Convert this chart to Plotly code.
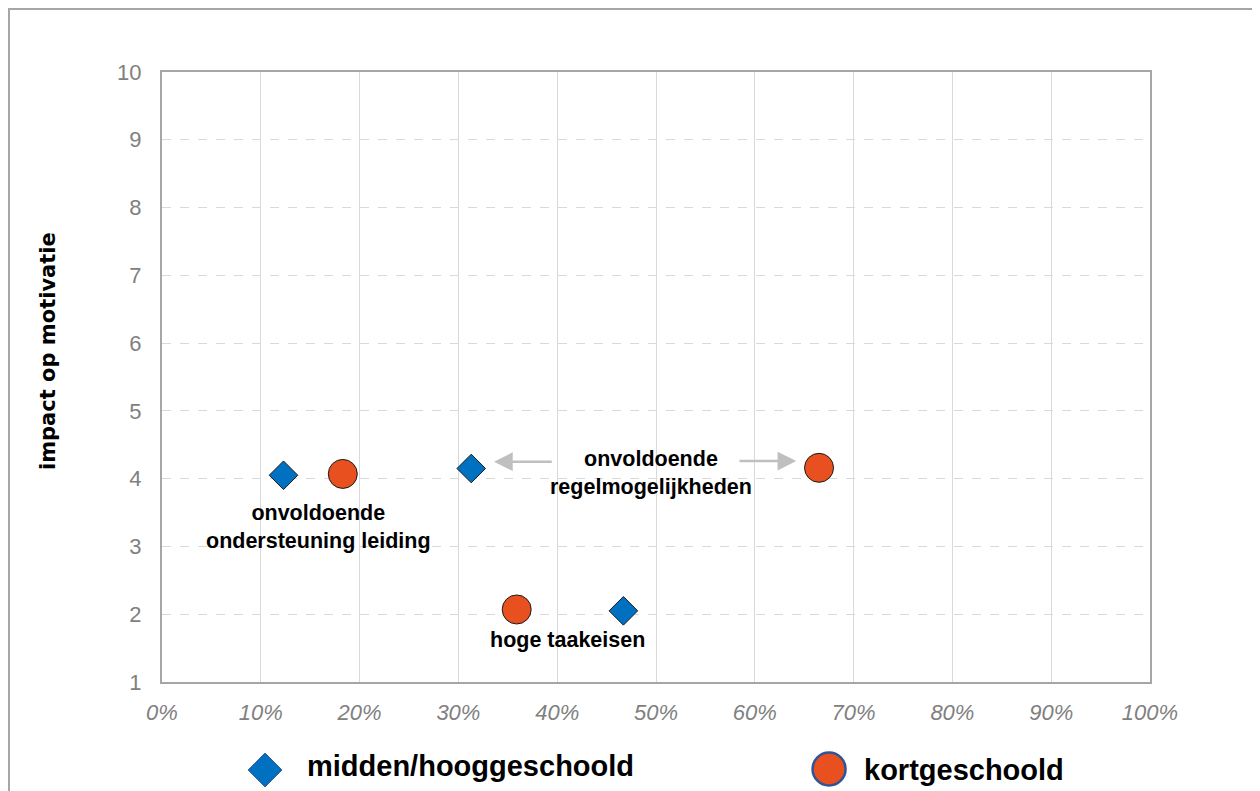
import plotly.graph_objects as go

# ---------------- data ----------------
series_names = ["midden/hooggeschoold", "kortgeschoold"]
mh_x = [12.3, 31.3, 46.7]          # % (midden/hooggeschoold)
mh_y = [4.05, 4.15, 2.05]
kg_x = [18.3, 66.5, 35.9]          # % (kortgeschoold)
kg_y = [4.07, 4.16, 2.07]
label_texts = ["onvoldoende<br>ondersteuning leiding",
               "onvoldoende<br>regelmogelijkheden",
               "hoge taakeisen"]
x_tick_vals = [0, 10, 20, 30, 40, 50, 60, 70, 80, 90, 100]
x_tick_labels = ["0%", "10%", "20%", "30%", "40%", "50%", "60%", "70%", "80%", "90%", "100%"]
y_tick_vals = [1, 2, 3, 4, 5, 6, 7, 8, 9, 10]
y_title = "impact op motivatie"

BLUE = "#0070C0"
ORANGE = "#E8501F"
GRAY_TXT = "#808080"

W, H = 1252, 783

fig = go.Figure()

fig.add_trace(go.Scatter(
    x=mh_x, y=mh_y, mode="markers", name=series_names[0], showlegend=False,
    marker=dict(symbol="diamond", size=22, color=BLUE, line=dict(color="#1a1a1a", width=1)),
))
fig.add_trace(go.Scatter(
    x=kg_x, y=kg_y, mode="markers", name=series_names[1], showlegend=False,
    marker=dict(symbol="circle", size=29, color=ORANGE, line=dict(color="#1a1a1a", width=1)),
))

# custom legend symbols on a hidden helper axis pair below the plot area
fig.add_trace(go.Scatter(
    x=[0.2053], y=[0.268], xaxis="x2", yaxis="y2", mode="markers", showlegend=False,
    cliponaxis=False, hoverinfo="skip",
    marker=dict(symbol="diamond", size=26, color=BLUE, line=dict(color="#2F5597", width=1)),
))
fig.add_trace(go.Scatter(
    x=[0.6558], y=[0.281], xaxis="x2", yaxis="y2", mode="markers", showlegend=False,
    cliponaxis=False, hoverinfo="skip",
    marker=dict(symbol="circle", size=33, color=ORANGE, line=dict(color="#2F5597", width=2.5)),
))

label_font = dict(family="Liberation Sans, Arial", size=21.5, color="black")
annotations = [
    dict(x=15.8, y=3.29, text="<b>" + label_texts[0] + "</b>", showarrow=False,
         font=label_font, xanchor="center", yanchor="middle"),
    dict(x=49.5, y=4.09, text="<b>" + label_texts[1] + "</b>", showarrow=False,
         font=label_font, xanchor="center", yanchor="middle"),
    dict(x=41.0, y=1.62, text="<b>" + label_texts[2] + "</b>", showarrow=False,
         font=label_font, xanchor="center", yanchor="middle"),
    # arrows
    dict(x=33.6, y=4.25, ax=39.6, ay=4.25, axref="x", ayref="y", xref="x", yref="y",
         text="", showarrow=True, arrowhead=2, arrowsize=1.5, arrowwidth=2.5, arrowcolor="#BFBFBF"),
    dict(x=64.2, y=4.26, ax=58.3, ay=4.26, axref="x", ayref="y", xref="x", yref="y",
         text="", showarrow=True, arrowhead=2, arrowsize=1.5, arrowwidth=2.5, arrowcolor="#BFBFBF"),
    # legend texts
    dict(x=297 / W, y=(H - 758) / H, xref="paper", yref="paper", text="<b>" + series_names[0] + "</b>",
         showarrow=False, xanchor="left", yanchor="middle",
         font=dict(family="Liberation Sans, Arial", size=29, color="black")),
    dict(x=854 / W, y=(H - 762) / H, xref="paper", yref="paper", text="<b>" + series_names[1] + "</b>",
         showarrow=False, xanchor="left", yanchor="middle",
         font=dict(family="Liberation Sans, Arial", size=29, color="black")),
    # y axis title
    dict(x=40 / W, y=(H - 343) / H, xref="paper", yref="paper", text="<b>" + y_title + "</b>",
         showarrow=False, textangle=-90, xanchor="center", yanchor="middle",
         font=dict(family="DejaVu Sans", size=21, color="black")),
]

fig.update_layout(
    width=W, height=H,
    autosize=False,
    margin=dict(l=0, r=0, t=0, b=0, autoexpand=False),
    paper_bgcolor="white", plot_bgcolor="white",
    showlegend=False,
    annotations=annotations,
    shapes=[dict(type="rect", xref="paper", yref="paper",
                 x0=1 / W, x1=1247 / W, y0=-0.05, y1=1 - 1 / H,
                 line=dict(color="#A6A6A6", width=2), fillcolor="rgba(0,0,0,0)", layer="below")],
    xaxis=dict(
        domain=[154 / W, 1142 / W], anchor="y", automargin=False,
        range=[0, 100], tickvals=x_tick_vals, ticktext=x_tick_labels,
        showgrid=True, gridcolor="#D9D9D9", gridwidth=1,
        showline=True, mirror=True, linecolor="#A6A6A6", linewidth=2,
        zeroline=False, ticks="", ticklabelstandoff=10,
        tickfont=dict(family="Liberation Sans, Arial", size=22, color=GRAY_TXT, style="italic"),
    ),
    yaxis=dict(
        domain=[(H - 674) / H, (H - 64) / H], anchor="x", automargin=False,
        range=[1, 10], tickvals=y_tick_vals,
        showgrid=True, gridcolor="#D9D9D9", gridwidth=1, griddash="dash",
        showline=True, mirror=True, linecolor="#A6A6A6", linewidth=2,
        zeroline=False, ticks="", ticklabelstandoff=14,
        tickfont=dict(family="Liberation Sans, Arial", size=22, color=GRAY_TXT),
    ),
    xaxis2=dict(domain=[0, 1], range=[0, 1], visible=False, anchor="y2", automargin=False),
    yaxis2=dict(domain=[0, 0.1], range=[0, 1], visible=False, anchor="x2", automargin=False),
)

fig.write_html("out.html")
